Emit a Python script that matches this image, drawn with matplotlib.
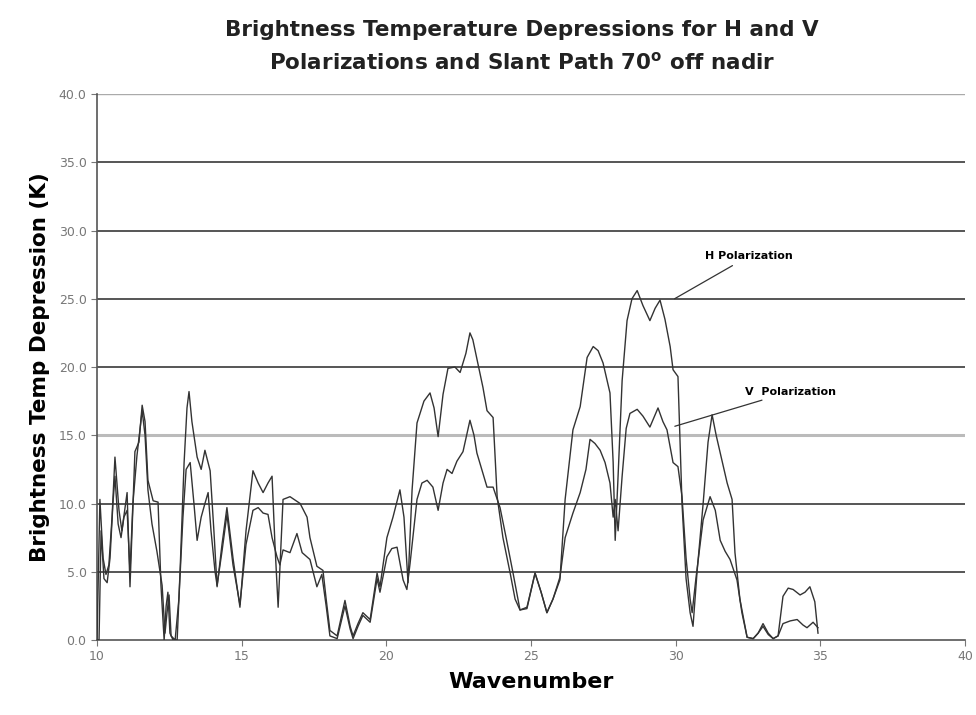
import matplotlib.pyplot as plt

# ---- data ----
h_x = [10.00, 10.10, 10.21, 10.31, 10.41, 10.52, 10.62, 10.76, 10.86, 11.04, 11.14, 11.31, 11.45, 11.56,
       11.66, 11.76, 11.94, 12.11, 12.21, 12.32, 12.39, 12.45, 12.52, 12.63, 12.77, 12.87, 13.01, 13.11,
       13.18, 13.28, 13.46, 13.60, 13.73, 13.91, 14.04, 14.15, 14.32, 14.49, 14.70, 14.94, 15.15, 15.39,
       15.57, 15.74, 15.91, 16.05, 16.15, 16.26, 16.43, 16.67, 17.02, 17.26, 17.36, 17.60, 17.81, 17.92,
       18.05, 18.30, 18.57, 18.75, 18.85, 19.02, 19.19, 19.44, 19.68, 19.78, 20.02, 20.23, 20.47, 20.61,
       20.75, 20.89, 21.06, 21.30, 21.51, 21.65, 21.79, 21.96, 22.13, 22.37, 22.55, 22.75, 22.89, 22.99,
       23.13, 23.34, 23.48, 23.69, 23.83, 24.03, 24.28, 24.45, 24.62, 24.86, 25.14, 25.35, 25.55, 25.76,
       26.00, 26.18, 26.45, 26.70, 26.94, 27.15, 27.32, 27.49, 27.73, 27.84, 27.91, 28.01, 28.15, 28.32,
       28.49, 28.67, 28.87, 29.11, 29.29, 29.46, 29.63, 29.81, 29.91, 30.08, 30.22, 30.36, 30.50, 30.60,
       30.74, 30.95, 31.12, 31.26, 31.40, 31.54, 31.78, 31.95, 32.05, 32.22, 32.47, 32.68, 32.85, 33.02,
       33.20, 33.37, 33.54, 33.71, 33.89, 34.06, 34.30, 34.47, 34.64, 34.81, 34.92]
h_y = [0.0, 10.3, 6.0, 4.8, 5.5, 9.0, 13.4, 9.5, 8.0, 10.8, 3.9, 13.8, 14.5, 17.2,
       16.0, 11.7, 10.2, 10.1, 4.0, 0.0, 2.5, 3.5, 0.5, 0.0, 0.0, 5.0, 13.0, 17.0,
       18.2, 16.0, 13.4, 12.5, 13.9, 12.4, 8.0, 3.9, 7.0, 9.7, 6.0, 2.4, 8.0, 12.4,
       11.5, 10.8, 11.5, 12.0, 7.0, 2.4, 10.3, 10.5, 10.0, 9.0, 7.5, 5.4, 5.1, 3.0,
       0.7, 0.3, 2.9, 1.0, 0.3, 1.2, 2.0, 1.5, 4.9, 3.9, 7.5, 9.0, 11.0, 9.0,
       4.2, 11.0, 15.9, 17.5, 18.1, 17.0, 14.9, 18.0, 19.9, 20.0, 19.6, 21.0, 22.5, 22.0,
       20.6, 18.5, 16.8, 16.3, 10.5, 7.5, 4.9, 3.0, 2.2, 2.4, 4.9, 3.5, 2.0, 3.0,
       4.4, 10.3, 15.4, 17.1, 20.7, 21.5, 21.2, 20.3, 18.1, 13.0, 7.3, 12.0, 19.0, 23.4,
       25.0, 25.6, 24.5, 23.4, 24.3, 24.9, 23.5, 21.5, 19.8, 19.3, 10.0, 4.5, 2.0, 1.0,
       5.0, 10.0, 14.5, 16.5, 15.0, 13.7, 11.5, 10.3, 6.4, 3.0, 0.2, 0.1, 0.5, 1.2,
       0.5, 0.1, 0.3, 3.2, 3.8, 3.7, 3.3, 3.5, 3.9, 2.8, 0.5]

v_x = [10.00, 10.07, 10.14, 10.24, 10.35, 10.45, 10.55, 10.62, 10.73, 10.83, 10.93, 11.04, 11.14, 11.24,
       11.38, 11.56, 11.66, 11.76, 11.90, 12.07, 12.25, 12.35, 12.42, 12.49, 12.56, 12.70, 12.83, 12.97,
       13.08, 13.22, 13.35, 13.46, 13.60, 13.73, 13.84, 13.94, 14.08, 14.15, 14.32, 14.49, 14.70, 14.94,
       15.15, 15.39, 15.57, 15.74, 15.91, 16.05, 16.22, 16.32, 16.43, 16.67, 16.91, 17.09, 17.36, 17.60,
       17.77, 17.92, 18.05, 18.30, 18.57, 18.75, 18.85, 19.02, 19.19, 19.44, 19.68, 19.78, 20.02, 20.19,
       20.37, 20.58, 20.71, 20.82, 21.06, 21.23, 21.41, 21.61, 21.79, 21.96, 22.10, 22.27, 22.44, 22.65,
       22.89, 23.03, 23.13, 23.34, 23.48, 23.69, 23.93, 24.14, 24.38, 24.62, 24.86, 25.14, 25.35, 25.55,
       25.76, 26.00, 26.18, 26.45, 26.70, 26.90, 27.04, 27.21, 27.39, 27.56, 27.73, 27.84, 27.91, 28.01,
       28.15, 28.29, 28.42, 28.67, 28.87, 29.11, 29.29, 29.39, 29.56, 29.70, 29.91, 30.08, 30.22, 30.36,
       30.50, 30.57, 30.70, 30.95, 31.19, 31.37, 31.54, 31.71, 31.88, 32.12, 32.29, 32.47, 32.68, 32.85,
       33.02, 33.20, 33.37, 33.54, 33.71, 33.96, 34.20, 34.40, 34.54, 34.75, 34.92]
v_y = [0.0, 0.0, 8.0, 4.5, 4.2, 6.0, 10.0, 12.0, 8.5, 7.5, 9.0, 9.5, 5.0, 10.0,
       13.5, 16.8, 15.0, 11.0, 8.5, 6.5, 4.0, 0.5, 2.0, 3.3, 0.3, 0.0, 3.0, 9.0,
       12.5, 13.0, 10.0, 7.3, 9.0, 10.0, 10.8, 8.0, 5.0, 4.0, 6.5, 9.2, 5.5, 2.6,
       7.0, 9.5, 9.7, 9.3, 9.2, 7.5, 6.1, 5.5, 6.6, 6.4, 7.8, 6.4, 5.9, 3.9,
       4.8, 2.5, 0.3, 0.1, 2.5, 0.8, 0.1, 1.0, 1.8, 1.3, 4.5, 3.5, 6.1, 6.7,
       6.8, 4.4, 3.7, 5.6, 10.3, 11.5, 11.7, 11.2, 9.5, 11.5, 12.5, 12.2, 13.1, 13.8,
       16.1, 15.0, 13.7, 12.2, 11.2, 11.2, 9.7, 7.5, 4.9, 2.2, 2.3, 4.9, 3.5, 2.0,
       3.0, 4.6, 7.5, 9.3, 10.8, 12.5, 14.7, 14.4, 13.9, 13.0, 11.5, 9.0, 10.3, 8.0,
       12.0, 15.5, 16.6, 16.9, 16.4, 15.6, 16.5, 17.0, 16.0, 15.4, 13.0, 12.7, 10.5, 6.0,
       3.0, 2.0, 4.5, 8.8, 10.5, 9.5, 7.3, 6.5, 5.9, 4.4, 2.0, 0.2, 0.1, 0.5,
       1.0, 0.4, 0.1, 0.3, 1.2, 1.4, 1.5, 1.1, 0.9, 1.3, 0.9]

y_ticks = [0, 5, 10, 15, 20, 25, 30, 35, 40]
x_ticks = [10, 15, 20, 25, 30, 35, 40]

# ---- figure ----
fig = plt.figure(figsize=(9.76, 7.15), dpi=100)
ax = fig.add_axes([0.0994, 0.1049, 0.8893, 0.7636])

for yv in y_ticks[1:]:
    if yv == 15:
        ax.axhline(yv, color='#bbbbbb', lw=2.2, zorder=1)
    elif yv == 40:
        ax.axhline(yv, color='#aaaaaa', lw=1.0, zorder=1)
    else:
        ax.axhline(yv, color='#555555', lw=1.4, zorder=1)

ax.plot(h_x, h_y, color='#333333', lw=1.0, zorder=3)
ax.plot(v_x, v_y, color='#333333', lw=1.0, zorder=3)

ax.set_xlim(10, 40)
ax.set_ylim(0, 40)
ax.set_xticks(x_ticks)
ax.set_yticks(y_ticks)
ax.set_yticklabels([f"{t:.1f}" for t in y_ticks])
ax.tick_params(axis='both', colors='#777777', labelsize=9, length=4, direction='out')
for s in ['top', 'right']:
    ax.spines[s].set_visible(False)
for s in ['left', 'bottom']:
    ax.spines[s].set_color('#555555')
    ax.spines[s].set_linewidth(1.2)

ax.set_xlabel("Wavenumber", fontsize=16, fontweight='bold', labelpad=6)
ax.set_ylabel("Brightness Temp Depression (K)", fontsize=15.5, fontweight='bold', labelpad=6)
fig.text(0.535, 0.958, "Brightness Temperature Depressions for H and V",
         ha='center', va='center', fontsize=15.5, fontweight='bold', color='#222222')
fig.text(0.535, 0.913, "Polarizations and Slant Path 70$^{\\mathbf{o}}$ off nadir",
         ha='center', va='center', fontsize=15.5, fontweight='bold', color='#222222')

ax.annotate("H Polarization", xy=(29.88, 24.9), xytext=(31.0, 28.1),
            fontsize=8, fontweight='bold', va='center', ha='left',
            arrowprops=dict(arrowstyle='-', color='#333333', lw=0.9))
ax.annotate("V  Polarization", xy=(29.88, 15.6), xytext=(32.4, 18.2),
            fontsize=8, fontweight='bold', va='center', ha='left',
            arrowprops=dict(arrowstyle='-', color='#333333', lw=0.9))

fig.savefig('out.png', dpi=100)
